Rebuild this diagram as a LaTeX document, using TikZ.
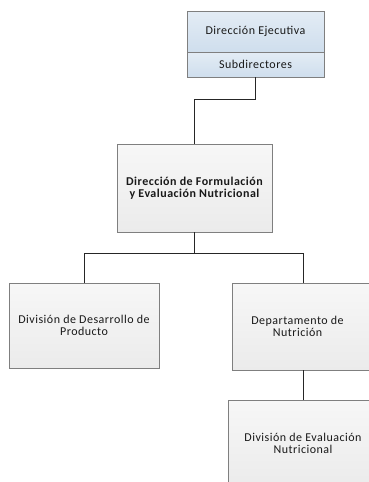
\documentclass[tikz,border=0pt]{standalone}
\usepackage{fontspec}
\setmainfont{Carlito}[LetterSpace=4]
\usetikzlibrary{shadows}
\definecolor{bordergray}{HTML}{7F7F7F}
\definecolor{bluetop}{HTML}{E3ECF5}
\definecolor{bluebot}{HTML}{CFDEED}
\definecolor{graytop}{HTML}{F7F7F7}
\definecolor{graybot}{HTML}{EBEBEB}
\tikzset{
  box/.style={draw=bordergray, line width=0.8pt, rectangle, inner sep=0pt, align=center,
    font=\fontsize{12}{12}\selectfont, text=black!90,
    drop shadow={shadow xshift=1.2pt, shadow yshift=-1.2pt, fill=black, opacity=0.25}},
  graybox/.style={box, top color=graytop, bottom color=graybot},
  bluebox/.style={box, top color=bluetop, bottom color=bluebot},
  link/.style={draw=black!85, line width=0.8pt}
}
\begin{document}
\begin{tikzpicture}[x=1pt,y=-1pt]
\useasboundingbox (0,0) rectangle (369,482);
\begin{scope}
\clip (0,0) rectangle (369,482);
\node[bluebox, minimum width=137pt, minimum height=41pt] (exec) at (255.5,31.5) {Dirección Ejecutiva};
\node[bluebox, minimum width=137pt, minimum height=25pt] (sub) at (255.5,64.5) {Subdirectores};
\node[graybox, minimum width=155pt, minimum height=88pt, font=\fontsize{12}{12}\selectfont\bfseries] (form) at (194.5,188) {Dirección de Formulación\\y Evaluación Nutricional};
\node[graybox, minimum width=150pt, minimum height=85pt] (desa) at (84,325.5) {División de Desarrollo de\\Producto};
\node[graybox, minimum width=142pt, minimum height=87pt] (nutr) at (303,326.5) {\hspace*{-11pt}Departamento de\\\hspace*{-11pt}Nutrición};
\node[graybox, minimum width=150pt, minimum height=86pt] (eval) at (303,443) {División de Evaluación\\Nutricional};
\end{scope}
\coordinate (j1) at (sub.south |- 0,99);
\coordinate (j2) at (form.north |- 0,99);
\coordinate (j3) at (form.south |- 0,253);
\coordinate (j4) at (desa.north |- 0,253);
\coordinate (j5) at (nutr.north |- 0,253);
\draw[link] (sub.south) -- (j1) -- (j2) -- (form.north);
\draw[link] (form.south) -- (j3);
\draw[link] (desa.north) -- (j4) -- (j5) -- (nutr.north);
\draw[link] (nutr.south) -- (eval.north);
\end{tikzpicture}
\end{document}
